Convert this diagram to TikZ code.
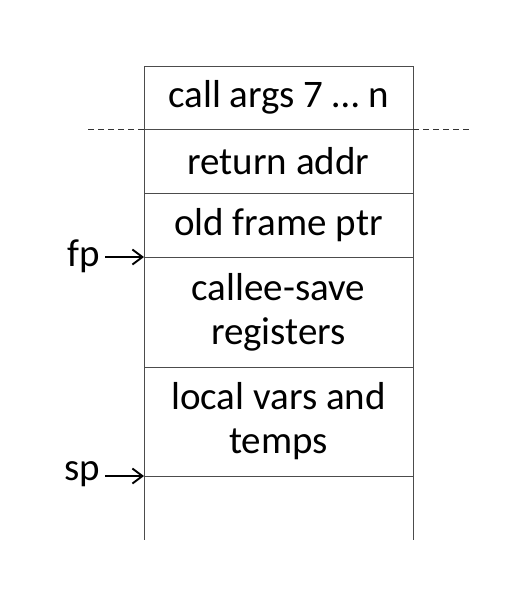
\documentclass[tikz,border=0pt]{standalone}
\usepackage{fontspec}
\setmainfont{Carlito}
\usetikzlibrary{arrows.meta,positioning}

\begin{document}
\begin{tikzpicture}[x=1pt,y=-1pt,
      cell/.style={rectangle, draw=black!70, line width=0.9pt, minimum width=269pt, inner sep=0pt, outer sep=0pt, align=center, font=\fontsize{39}{44}\selectfont},
      lbl/.style={font=\fontsize{39}{44}\selectfont, inner sep=0pt},
      pfeil/.style={-{Straight Barb[length=10pt,width=15pt]}, line width=1.9pt},
      sep/.style={dashed, dash pattern=on 6pt off 4pt, draw=black!80, line width=0.9pt}]

\useasboundingbox (0,0) rectangle (508,594);

\node[cell,minimum height=63pt] (c1) at (278.5,97.5) {call args 7 \dots\ n};
\node[cell,minimum height=64pt,below=0pt of c1] (c2) {return addr};
\node[cell,minimum height=64pt,below=0pt of c2] (c3) {old frame ptr};
\node[cell,minimum height=110pt,below=0pt of c3] (c4) {callee-save\\registers};
\node[cell,minimum height=109pt,below=0pt of c4] (c5) {local vars and\\temps};
\node[cell,draw=none,minimum height=64pt,below=0pt of c5] (c6) {};
\draw[draw=black!70, line width=0.9pt] (c6.north west) -- (c6.south west);
\draw[draw=black!70, line width=0.9pt] (c6.north east) -- (c6.south east);

% boundary of the frame
\coordinate (dl) at (88,129);
\coordinate (dr) at (470,129);
\draw[sep] (dl) -- (c1.south west);
\draw[sep] (c1.south east) -- (dr);

% pointers
\node[lbl,anchor=east] (fp) at (100,256) {fp};
\node[lbl,anchor=east] (sp) at (100,474) {sp};
\draw[pfeil] (c3.south west -| fp.east) ++(5,0) -- (c3.south west);
\draw[pfeil] (c5.south west -| sp.east) ++(5,0) -- (c5.south west);

\end{tikzpicture}
\end{document}
